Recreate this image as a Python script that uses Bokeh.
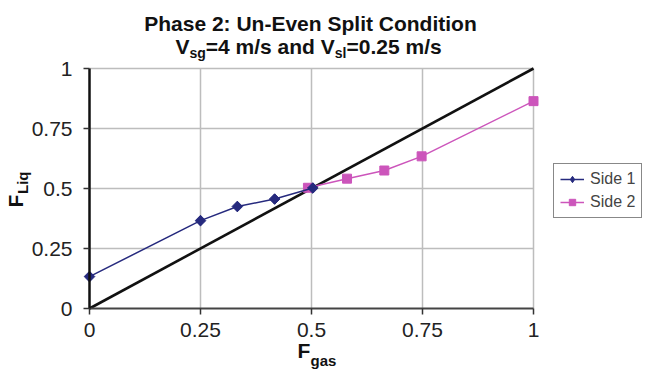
from bokeh.plotting import figure
from bokeh.models import (Range1d, FixedTicker, CustomJSTickFormatter, Label,
                          Legend, LegendItem)
from bokeh.embed import file_html
from bokeh.resources import INLINE
import math

# ---- data ----
side1_x = [0.0, 0.25, 0.333, 0.417, 0.503]
side1_y = [0.133, 0.366, 0.425, 0.456, 0.502]
side2_x = [0.492, 0.580, 0.664, 0.748, 1.0]
side2_y = [0.503, 0.541, 0.575, 0.634, 0.864]
diag_x = [0.0, 1.0]
diag_y = [0.0, 1.0]
ticks = [0, 0.25, 0.5, 0.75, 1]
grid_vals = [0.25, 0.5, 0.75, 1]

FONT = "Liberation Sans"
W, H = 645, 371
# plot area of the chart inside the canvas (pixels)
L, T = 89, 68
FW, FH = 444, 240
x_lo, x_hi = -L / FW, (W - L) / FW
y_lo, y_hi = -(H - T - FH) / FH, (T + FH) / FH

p = figure(width=W, height=H, output_backend="svg", toolbar_location=None,
           title=None, x_range=Range1d(x_lo, x_hi),
           y_range=Range1d(y_lo, y_hi),
           min_border_left=0, min_border_right=0, min_border_top=0,
           min_border_bottom=0)
p.outline_line_color = None
p.background_fill_color = "white"
p.border_fill_color = "white"
p.grid.visible = False

for ax in (p.xaxis[0], p.yaxis[0]):
    ax.fixed_location = 0
    ax.bounds = (0, 1)
    ax.ticker = FixedTicker(ticks=ticks)
    ax.formatter = CustomJSTickFormatter(code="return tick.toString();")
    ax.major_label_text_font = FONT
    ax.major_label_text_font_size = "21px"
    ax.major_label_text_color = "#222222"
    ax.minor_tick_line_color = None
    ax.major_tick_in = 0
    ax.major_tick_out = 6

p.yaxis.major_label_standoff = 11
p.xaxis.major_label_standoff = 8

# grid lines (drawn under the axes)
p.segment(x0=grid_vals, y0=[0] * len(grid_vals), x1=grid_vals,
          y1=[1] * len(grid_vals), line_color="#bdbdbd", line_width=1.5)
p.segment(x0=[0] * len(grid_vals), y0=grid_vals, x1=[1] * len(grid_vals),
          y1=grid_vals, line_color="#bdbdbd", line_width=1.5)

p.yaxis.axis_line_color = "#111111"
p.yaxis.axis_line_width = 2.5
p.yaxis.major_tick_line_color = "#333333"
p.yaxis.major_tick_line_width = 1.5
p.xaxis.axis_line_color = "#444444"
p.xaxis.axis_line_width = 2
p.xaxis.major_tick_line_color = "#333333"
p.xaxis.major_tick_line_width = 1.5

# diagonal
p.line(diag_x, diag_y, line_color="#111111", line_width=2.6)

c1 = "#262a7e"
c2 = "#cc55bb"
l2 = p.line(side2_x, side2_y, line_color=c2, line_width=1.5)
s2 = p.scatter(side2_x, side2_y, marker="square", size=9, fill_color=c2,
               line_color=c2)
l1 = p.line(side1_x, side1_y, line_color=c1, line_width=1.5)
# diamond key glyph (used by the legend), covered by the rotated squares
s1_key = p.scatter(side1_x, side1_y, marker="diamond", size=10,
                   fill_color=c1, line_color=c1)
s1 = p.scatter(side1_x, side1_y, marker="square", angle=math.pi / 4,
               size=7.5, fill_color=c1, line_color=c1)

legend = Legend(items=[LegendItem(label="Side 1", renderers=[l1, s1_key]),
                       LegendItem(label="Side 2", renderers=[l2, s2])],
                location=(553, 153), border_line_color="#111111",
                border_line_width=1.2, label_text_font=FONT,
                label_text_font_size="16px", glyph_width=24, glyph_height=16,
                label_standoff=6, padding=6, spacing=5, margin=0,
                label_height=16, background_fill_alpha=1)
p.add_layout(legend, "center")


def px2d(px, py):
    return (px - L) / FW, (T + FH - py) / FH


def put(text, px, py, size, align="left", angle=0.0, bold=True):
    x, y = px2d(px, py)
    p.add_layout(Label(x=x, y=y, text=text, text_font=FONT,
                       text_font_size=f"{size}px",
                       text_font_style="bold" if bold else "normal",
                       text_align=align, text_baseline="alphabetic",
                       text_color="#111111", angle=angle))


# title
put("Phase 2: Un-Even Split Condition", 310, 23, 21, align="center")
put("V", 175, 46, 21)
put("sg", 189, 52, 14)
put("=4 m/s and V", 205.3, 46, 21)
put("sl", 334.3, 52, 14)
put("=0.25 m/s", 346, 46, 21)

# x-axis label
put("F", 297, 350, 21)
put("gas", 310, 360, 15)

# y-axis label (rotated)
put("F", 15, 207, 21, angle=math.pi / 2)
put("Liq", 22, 193.5, 15, angle=math.pi / 2)

open("out.html", "w").write(file_html(p, INLINE))
